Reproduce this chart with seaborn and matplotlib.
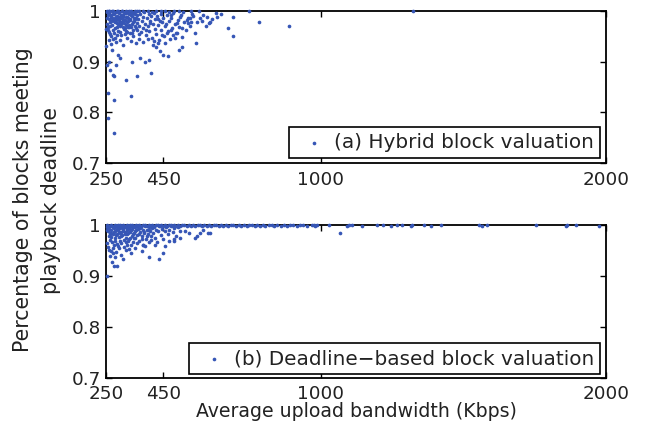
import matplotlib
matplotlib.use("Agg")
import matplotlib.pyplot as plt
import seaborn as sns
import pandas as pd

# Hybrid block valuation: average upload bandwidth (Kbps) vs. fraction of blocks on time
hybrid_bw = [
    252, 255, 258, 261, 264, 266, 269, 271, 274, 276, 279, 281, 284, 286, 289, 291, 294, 296, 299, 301,
    304, 306, 309, 311, 314, 316, 319, 321, 324, 326, 329, 331, 334, 336, 339, 341, 344, 346, 349, 351,
    354, 356, 359, 253, 257, 262, 267, 272, 277, 282, 287, 292, 297, 302, 307, 312, 317, 322, 327, 332,
    337, 342, 347, 352, 357, 254, 259, 263, 268, 273, 278, 283, 288, 293, 298, 303, 308, 313, 318, 323,
    328, 333, 338, 343, 348, 353, 358, 256, 265, 270, 280, 285, 290, 295, 300, 310, 315, 320, 325, 330,
    251, 260, 275, 290, 305, 318, 335, 350, 365, 380, 395, 410, 425, 440, 455, 470, 488, 505, 520, 545,
    362, 365, 368, 371, 374, 377, 380, 383, 386, 389, 392, 395, 398, 401, 404, 407, 410, 413, 416, 419,
    422, 425, 428, 431, 434, 437, 440, 443, 446, 449, 453, 457, 461, 465, 469, 473, 477, 481, 485, 490,
    495, 500, 505, 510, 516, 522, 528, 535, 542, 550, 366, 378, 388, 402, 418, 430, 445, 460, 475, 492,
    258, 266, 275, 283, 298, 310, 322, 335, 345, 355, 261, 288, 318, 340, 363, 395, 412, 425, 250, 250,
    561, 563, 567, 575, 600, 611, 613, 634, 637, 675, 695, 695, 748, 783, 889, 1324,
    514, 505, 467, 450, 438, 406, 401, 386, 368, 356, 341, 335, 318, 298, 292, 284, 278, 278, 277, 272,
    263, 257, 257, 260, 269, 254,
    476, 508, 532, 543, 578, 590, 602, 514, 499, 485, 462, 456, 432, 497, 537, 545, 555, 585, 620, 650,
]
hybrid_ratio = [
    0.998, 0.991, 0.985, 0.996, 0.978, 0.989, 0.999, 0.972, 0.984, 0.993, 0.966, 0.987, 0.997, 0.976, 0.990, 0.961, 0.982, 0.995, 0.970, 0.986,
    0.999, 0.978, 0.991, 0.964, 0.983, 0.996, 0.973, 0.988, 0.958, 0.980, 0.994, 0.969, 0.985, 0.998, 0.975, 0.990, 0.962, 0.981, 0.993, 0.971,
    0.987, 0.999, 0.977, 0.975, 0.962, 0.955, 0.981, 0.994, 0.957, 0.979, 0.999, 0.984, 0.959, 0.975, 0.989, 0.998, 0.967, 0.979, 0.987, 0.956,
    0.991, 0.978, 0.997, 0.984, 0.963, 0.986, 0.999, 0.970, 0.992, 0.962, 0.980, 0.989, 0.968, 0.997, 0.979, 0.992, 0.968, 0.976, 0.988, 0.997,
    0.973, 0.982, 0.968, 0.995, 0.986, 0.966, 0.992, 0.968, 0.950, 0.987, 0.946, 0.983, 0.974, 0.988, 0.952, 0.982, 0.954, 0.995, 0.969, 0.999,
    1.000, 0.999, 1.000, 0.999, 1.000, 0.999, 1.000, 0.999, 1.000, 0.999, 1.000, 0.998, 1.000, 0.999, 1.000, 0.998, 0.999, 1.000, 0.997, 0.999,
    0.985, 0.971, 0.993, 0.958, 0.980, 0.989, 0.966, 0.997, 0.975, 0.952, 0.986, 0.970, 0.994, 0.961, 0.980, 0.990, 0.947, 0.975, 0.996, 0.965,
    0.984, 0.955, 0.990, 0.972, 0.943, 0.981, 0.993, 0.962, 0.978, 0.986, 0.951, 0.970, 0.991, 0.960, 0.980, 0.945, 0.987, 0.966, 0.995, 0.975,
    0.957, 0.983, 0.968, 0.991, 0.948, 0.978, 0.962, 0.986, 0.970, 0.993, 0.944, 0.938, 0.962, 0.977, 0.940, 0.985, 0.953, 0.975, 0.962, 0.946,
    0.942, 0.935, 0.945, 0.938, 0.943, 0.933, 0.947, 0.940, 0.950, 0.936, 0.958, 0.953, 0.961, 0.957, 0.954, 0.944, 0.932, 0.928, 0.965, 0.930,
    0.956, 0.936, 0.979, 0.999, 0.970, 0.977, 0.979, 0.995, 0.988, 0.967, 0.989, 0.951, 1.000, 0.979, 0.970, 1.000,
    0.929, 0.923, 0.911, 0.913, 0.920, 0.877, 0.903, 0.900, 0.907, 0.871, 0.899, 0.833, 0.863, 0.907, 0.913, 0.894, 0.871, 0.825, 0.760, 0.874,
    0.884, 0.838, 0.789, 0.900, 0.923, 0.894,
    0.992, 0.989, 0.982, 0.986, 0.986, 0.992, 0.988, 0.966, 0.956, 0.953, 0.956, 0.936, 0.936, 0.976, 0.976, 0.978, 0.990, 0.981, 0.985, 0.993,
]

# Deadline-based block valuation
deadline_bw = [
    252, 255, 258, 261, 264, 266, 269, 271, 274, 276, 279, 281, 284, 286, 289, 291, 294, 296, 299, 301,
    304, 306, 309, 311, 314, 316, 319, 321, 324, 326, 329, 331, 334, 336, 339, 341, 344, 346, 349, 351,
    354, 356, 359, 362, 365, 368, 371, 374, 377, 380, 383, 386, 389, 392, 395, 398, 401, 404, 407, 410,
    253, 257, 262, 267, 272, 277, 282, 287, 292, 297, 302, 307, 312, 317, 322, 327, 332, 337, 342, 347,
    352, 357, 363, 369, 375, 381, 387, 393, 399, 405, 254, 259, 263, 268, 273, 278, 283, 288, 293, 298,
    303, 308, 313, 318, 323, 328, 333, 338, 343, 348, 413, 416, 420, 424, 428, 432, 436, 440, 445, 450,
    455, 460, 465, 470, 476, 482, 488, 494, 500, 508,
    251, 260, 275, 269, 277, 289, 280, 310, 335, 374, 401, 436, 448, 421, 456, 471, 487, 487, 508, 526,
    541, 561, 569, 590, 607, 578, 380, 613, 1069, 265, 285, 295, 318, 350, 300, 262, 330,
    254, 259, 266, 271, 279, 284, 291, 297, 303, 309, 315, 322, 327, 334, 340, 346, 353, 359, 366, 372,
    379, 386, 391, 398, 404, 411, 417, 424, 430, 437, 443, 449, 456, 463, 469, 475, 482, 488, 495, 502,
    509, 516, 523, 531, 538, 546, 553, 561, 570, 577, 585, 592, 601, 610, 617, 626, 634, 643, 651, 660,
    668, 677, 687, 695, 704, 713, 722, 731, 741, 750, 760, 769, 779, 788, 798, 807, 818, 829, 838, 849,
    860, 871, 882, 893, 905, 916, 929, 940, 952, 970, 976, 981, 987, 1028, 1093, 1098, 1110, 1145, 1198, 1219,
    1247, 1268, 1285, 1315, 1321, 1361, 1385, 1420, 1554, 1566, 1583, 1753, 1858, 1864, 1893, 1974,
]
deadline_ratio = [
    0.997, 0.988, 0.979, 0.993, 0.972, 0.985, 0.999, 0.968, 0.982, 0.994, 0.975, 0.989, 0.998, 0.964, 0.983, 0.991, 0.977, 0.996, 0.969, 0.986,
    0.999, 0.980, 0.992, 0.971, 0.987, 0.997, 0.976, 0.990, 0.962, 0.984, 0.995, 0.973, 0.988, 0.999, 0.979, 0.992, 0.967, 0.985, 0.996, 0.975,
    0.990, 0.999, 0.981, 0.993, 0.970, 0.987, 0.997, 0.978, 0.991, 0.962, 0.985, 0.998, 0.974, 0.990, 0.983, 0.996, 0.968, 0.988, 0.979, 0.994,
    0.966, 0.958, 0.982, 0.991, 0.955, 0.987, 0.970, 0.993, 0.960, 0.985, 0.978, 0.996, 0.958, 0.982, 0.994, 0.970, 0.986, 0.961, 0.997, 0.976,
    0.988, 0.966, 0.982, 0.994, 0.973, 0.987, 0.960, 0.978, 0.990, 0.972, 0.990, 0.999, 0.984, 0.977, 0.996, 0.962, 0.980, 0.999, 0.986, 0.994,
    0.966, 0.989, 0.999, 0.968, 0.983, 0.999, 0.976, 0.991, 0.982, 0.999, 0.985, 0.997, 0.976, 0.991, 0.968, 0.988, 0.998, 0.980, 0.993, 0.974,
    0.988, 0.996, 0.982, 0.991, 0.999, 0.986, 0.994, 0.979, 0.997, 0.989,
    0.901, 0.952, 0.945, 0.928, 0.920, 0.920, 0.938, 0.934, 0.946, 0.949, 0.938, 0.933, 0.945, 0.962, 0.959, 0.970, 0.970, 0.974, 0.976, 0.988,
    0.985, 0.976, 0.978, 0.991, 0.985, 0.985, 0.962, 0.985, 0.985, 0.950, 0.948, 0.955, 0.951, 0.956, 0.941, 0.939, 0.953,
    1.000, 0.999, 1.000, 0.998, 1.000, 0.999, 1.000, 1.000, 0.999, 1.000, 0.998, 1.000, 0.999, 1.000, 1.000, 0.999, 1.000, 0.998, 1.000, 0.999,
    1.000, 1.000, 0.999, 1.000, 0.998, 1.000, 0.999, 1.000, 1.000, 0.999, 1.000, 0.998, 1.000, 0.999, 1.000, 1.000, 0.999, 1.000, 0.998, 1.000,
    0.999, 1.000, 1.000, 0.999, 1.000, 0.998, 1.000, 0.999, 1.000, 1.000, 0.999, 1.000, 0.998, 1.000, 0.999, 1.000, 1.000, 0.999, 1.000, 0.998,
    1.000, 0.999, 1.000, 1.000, 0.999, 1.000, 0.998, 1.000, 0.999, 1.000, 1.000, 0.999, 1.000, 0.998, 1.000, 0.999, 1.000, 1.000, 0.999, 1.000,
    0.998, 1.000, 0.999, 1.000, 1.000, 0.999, 1.000, 1.000, 0.999, 1.000, 1.000, 0.999, 1.000, 1.000, 0.999, 1.000, 1.000, 0.999, 1.000, 1.000,
    0.999, 1.000, 1.000, 0.999, 1.000, 1.000, 0.999, 1.000, 1.000, 0.999, 1.000, 1.000, 0.999, 1.000, 1.000, 0.999,
]

x_ticks = [250, 450, 1000, 2000]
y_ticks = [0.7, 0.8, 0.9, 1.0]
y_tick_labels = ["0.7", "0.8", "0.9", "1"]
panel_labels = ["(a) Hybrid block valuation", "(b) Deadline\u2212based block valuation"]
x_label = "Average upload bandwidth (Kbps)"
y_label = "Percentage of blocks meeting\nplayback deadline"

sns.set_theme(style="white")
plt.rcParams["font.family"] = ["DejaVu Sans"]

dot_color = "#3656b6"
text_color = "#222222"
tick_fs = 13.2
xlabel_fs = 13.6
legend_fs = 14.4
ylabel_fs = 14.8

fig = plt.figure(figsize=(6.45, 4.37), dpi=100)
ax_top = fig.add_axes([0.1648, 0.6270, 0.7752, 0.3480])
ax_bot = fig.add_axes([0.1648, 0.1357, 0.7752, 0.3487])

panels = [
    (ax_top, hybrid_bw, hybrid_ratio, panel_labels[0], (0.988, 0.033)),
    (ax_bot, deadline_bw, deadline_ratio, panel_labels[1], (0.988, 0.024)),
]

for ax, bw, ratio, lab, anchor in panels:
    df = pd.DataFrame({"bw": bw, "ratio": ratio})
    sns.scatterplot(data=df, x="bw", y="ratio", ax=ax, color=dot_color, s=7,
                    linewidth=0, label=lab, clip_on=False, zorder=3)
    ax.set_xlim(250, 2000)
    ax.set_ylim(0.7, 1.0)
    ax.set_xticks(x_ticks)
    ax.set_xticklabels([str(t) for t in x_ticks])
    ax.set_yticks(y_ticks)
    ax.set_yticklabels(y_tick_labels)
    ax.set_xlabel("")
    ax.set_ylabel("")
    for sp in ax.spines.values():
        sp.set_visible(True)
        sp.set_color("black")
        sp.set_linewidth(1.3)
    ax.tick_params(axis="both", which="major", direction="in", length=4.5, width=1,
                   color="black", labelsize=tick_fs, labelcolor=text_color,
                   top=True, right=True, left=True, bottom=True)
    ax.tick_params(axis="x", pad=5.5)
    ax.tick_params(axis="y", pad=4)
    leg = ax.legend(loc="lower right", bbox_to_anchor=anchor, frameon=True,
                    fancybox=False, framealpha=1, edgecolor="black",
                    fontsize=legend_fs, scatterpoints=1, markerscale=1.0,
                    handlelength=1.87, handletextpad=0.08, borderpad=0.3,
                    borderaxespad=0.0)
    leg.get_frame().set_linewidth(1.2)
    for t in leg.get_texts():
        t.set_color(text_color)

fig.text((106 + 606) / 2 / 645, 1 - 417 / 437, x_label, ha="center", va="baseline",
         fontsize=xlabel_fs, color=text_color)
fig.text(37 / 645, 1 - 200 / 437, y_label, ha="center", va="center", rotation=90,
         fontsize=ylabel_fs, color=text_color, linespacing=1.45, multialignment="center")

fig.savefig("out.png", dpi=100)
